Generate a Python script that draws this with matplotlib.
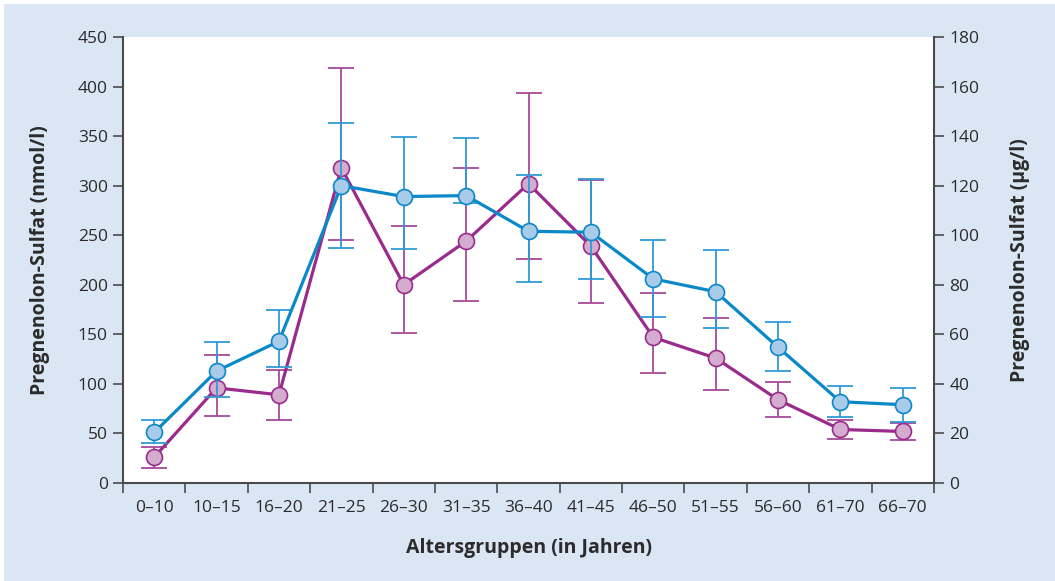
import numpy as np
import matplotlib.pyplot as plt
from matplotlib.patches import Rectangle

plt.rcParams['font.family'] = ['Open Sans', 'DejaVu Sans']

# age groups
groups = ["0–10", "10–15", "16–20", "21–25", "26–30", "31–35", "36–40",
          "41–45", "46–50", "51–55", "56–60", "61–70", "66–70"]

# blue series (nmol/l): mean, upper and lower end of the error bar
blue_mean = [51, 113, 143, 300, 289, 290, 254, 253, 206, 193, 137, 82, 79]
blue_hi = [64, 142, 175, 363, 349, 348, 311, 307, 245, 235, 162, 98, 96]
blue_lo = [40, 87, 117, 237, 236, 283, 203, 206, 167, 156, 113, 67, 62]

# purple series (nmol/l)
purple_mean = [26, 96, 89, 318, 200, 244, 302, 239, 147, 126, 84, 54, 52]
purple_hi = [36, 129, 114, 419, 259, 318, 394, 306, 192, 166, 102, 64, 61]
purple_lo = [15, 68, 64, 245, 151, 184, 226, 182, 111, 94, 67, 44, 43]

y_ticks = [0, 50, 100, 150, 200, 250, 300, 350, 400, 450]
y2_ticks = [0, 20, 40, 60, 80, 100, 120, 140, 160, 180]

bg = "#dae6f4"
axis_col = "#4a4a4a"
text_col = "#2b2b2b"

fig = plt.figure(figsize=(10.55, 5.81), dpi=100, facecolor="white")
fig.patches.append(Rectangle((4 / 1055, 0), 1, 1 - 4 / 581, transform=fig.transFigure,
                             facecolor=bg, edgecolor="none", zorder=-10))
ax = fig.add_axes([123 / 1055, 1 - 483 / 581, 811 / 1055, 446 / 581])
ax.set_facecolor("white")

x = np.arange(len(groups))


def draw(mean, hi, lo, line_col, bar_col, face_col, z):
    mean = np.array(mean)
    err = [mean - np.array(lo), np.array(hi) - mean]
    ax.errorbar(x, mean, yerr=err, fmt="none", ecolor=bar_col, elinewidth=1.3,
                capsize=9.5, capthick=1.3, zorder=z)
    ax.plot(x, mean, color=line_col, lw=2.3, marker="o", markersize=11.5,
            markerfacecolor=face_col, markeredgecolor=line_col, markeredgewidth=1.2,
            zorder=z + 1)


draw(purple_mean, purple_hi, purple_lo, "#9a2b8c", "#a64a9b", "#d4acd0", 2)
draw(blue_mean, blue_hi, blue_lo, "#0a88c8", "#2f9bd6", "#a8cbea", 4)

ax.set_xlim(-0.5, len(groups) - 0.5)
ax.set_ylim(0, 450)
ax.set_yticks(y_ticks)
ax.set_xticks(x)
ax.set_xticklabels(groups)
ax.set_xticks(np.arange(-0.5, len(groups)), minor=True)
ax.tick_params(axis="x", which="major", length=0, pad=12, labelsize=12.5, labelcolor=text_col)
ax.tick_params(axis="x", which="minor", length=7, width=1.2, color=axis_col)
ax.tick_params(axis="y", length=7, width=1.2, color=axis_col, labelsize=12.5,
               labelcolor=text_col, pad=4)

for s in ["top", "right"]:
    ax.spines[s].set_visible(False)
for s in ["left", "bottom"]:
    ax.spines[s].set_color(axis_col)
    ax.spines[s].set_linewidth(1.5)

ax.set_ylabel("Pregnenolon-Sulfat (nmol/l)", fontsize=14, fontweight="bold", color=text_col)
ax.yaxis.set_label_coords(-0.102, 0.5)
ax.yaxis.label.set_va("center")
ax.set_xlabel("Altersgruppen (in Jahren)", fontsize=14, fontweight="bold", color=text_col)
ax.xaxis.set_label_coords(0.5, -0.146)
ax.xaxis.label.set_va("center")

ax2 = ax.twinx()
ax2.set_ylim(0, 180)
ax2.set_yticks(y2_ticks)
for s in ["top", "left", "bottom"]:
    ax2.spines[s].set_visible(False)
ax2.spines["right"].set_color(axis_col)
ax2.spines["right"].set_linewidth(1.5)
ax2.tick_params(axis="y", length=7, width=1.2, color=axis_col, labelsize=12.5,
                labelcolor=text_col, pad=4)
ax2.set_ylabel("Pregnenolon-Sulfat (µg/l)", fontsize=14, fontweight="bold", color=text_col)
ax2.yaxis.set_label_coords(1.106, 0.5)
ax2.yaxis.label.set_va("center")

fig.savefig("out.png", dpi=100, facecolor=fig.get_facecolor())
